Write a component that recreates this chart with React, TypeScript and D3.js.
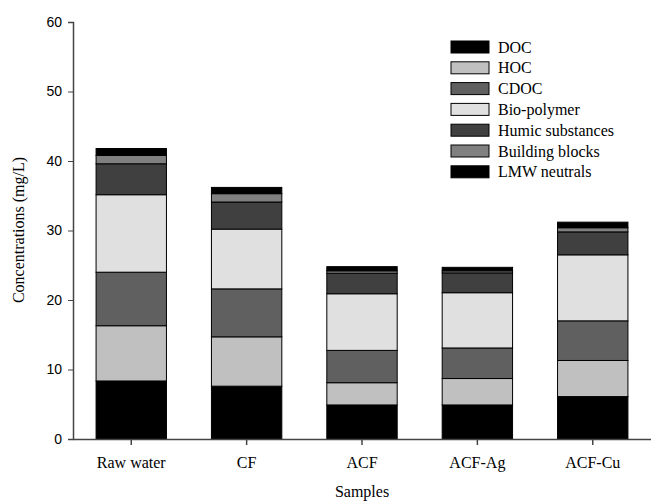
import React, { useEffect, useRef } from 'react';
import * as d3 from 'd3';

const samples = ['Raw water', 'CF', 'ACF', 'ACF-Ag', 'ACF-Cu'];
const fractions = ['DOC', 'HOC', 'CDOC', 'Bio-polymer', 'Humic substances', 'Building blocks', 'LMW neutrals'];
const fills = ['#000000', '#c0c0c0', '#606060', '#e0e0e0', '#404040', '#808080', '#000000'];

// stacked segment values per sample (mg/L), bottom to top
const doc = [8.35, 7.6, 4.9, 4.9, 6.1];
const hoc = [7.95, 7.1, 3.2, 3.8, 5.2];
const cdoc = [7.7, 6.9, 4.65, 4.4, 5.7];
const bioPolymer = [11.15, 8.6, 8.15, 7.95, 9.5];
const humic = [4.45, 3.9, 2.95, 2.85, 3.3];
const buildingBlocks = [1.2, 1.2, 0.35, 0.3, 0.6];
const lmwNeutrals = [1.0, 0.9, 0.6, 0.5, 0.8];

const yTicks = [0, 10, 20, 30, 40, 50, 60];

const SERIF = "'Liberation Serif', 'Times New Roman', serif";
const SANS = "'Liberation Sans', Arial, sans-serif";

const App = () => {
  const svgRef = useRef<SVGSVGElement>(null);

  useEffect(() => {
    const width = 651;
    const height = 503;
    const left = 73, right = 651, top = 22, bottom = 439;

    const series = [doc, hoc, cdoc, bioPolymer, humic, buildingBlocks, lmwNeutrals];
    const rows = samples.map((s, i) => {
      const r: any = { sample: s };
      fractions.forEach((f, j) => { r[f] = series[j][i]; });
      return r;
    });

    const stacked = d3.stack().keys(fractions)(rows);

    const x = d3.scaleBand().domain(samples).range([left, right]).paddingInner(0.39).paddingOuter(0.2);
    const y = d3.scaleLinear().domain([0, 60]).range([bottom, top]);

    const svg = d3.select(svgRef.current)
      .attr('width', width)
      .attr('height', height);
    svg.selectAll('*').remove();

    // bars
    const layers = svg.append('g')
      .selectAll('g')
      .data(stacked)
      .join('g')
      .attr('fill', (d, i) => fills[i]);

    layers.selectAll('rect')
      .data(d => d)
      .join('rect')
      .attr('x', (d: any) => x(d.data.sample)!)
      .attr('width', x.bandwidth())
      .attr('y', d => y(d[1]))
      .attr('height', d => y(d[0]) - y(d[1]))
      .attr('stroke', '#000')
      .attr('stroke-width', 1);

    // y axis
    const yAxis = svg.append('g')
      .attr('transform', `translate(${left},0)`)
      .call(d3.axisLeft(y).tickValues(yTicks).tickSize(5).tickPadding(6));
    yAxis.select('.domain').attr('stroke', '#444').attr('stroke-width', 1.5);
    yAxis.selectAll('.tick line').attr('stroke', '#444');
    yAxis.selectAll('text')
      .attr('font-family', SANS)
      .attr('font-size', 14)
      .attr('fill', '#000');

    // x axis
    const xAxis = svg.append('g')
      .attr('transform', `translate(0,${bottom})`)
      .call(d3.axisBottom(x).tickSize(6).tickPadding(12).tickSizeOuter(0));
    xAxis.select('.domain').attr('stroke', '#444').attr('stroke-width', 1.5);
    xAxis.selectAll('.tick line').attr('stroke', '#444').attr('stroke-width', 1.5);
    xAxis.selectAll('text')
      .attr('font-family', SERIF)
      .attr('font-size', 16)
      .attr('fill', '#000');

    // axis titles
    svg.append('text')
      .attr('x', 362)
      .attr('y', 497)
      .attr('text-anchor', 'middle')
      .attr('font-family', SERIF)
      .attr('font-size', 16)
      .text('Samples');

    svg.append('text')
      .attr('transform', 'translate(24,230) rotate(-90)')
      .attr('text-anchor', 'middle')
      .attr('font-family', SERIF)
      .attr('font-size', 16)
      .text('Concentrations (mg/L)');

    // legend
    const legend = svg.append('g')
      .selectAll('g')
      .data(fractions)
      .join('g')
      .attr('transform', (d, i) => `translate(451,${41 + i * 20.8})`);
    legend.append('rect')
      .attr('width', 38)
      .attr('height', 12)
      .attr('fill', (d, i) => fills[i])
      .attr('stroke', '#000')
      .attr('stroke-width', 1);
    legend.append('text')
      .attr('x', 47)
      .attr('y', 6)
      .attr('dy', '0.35em')
      .attr('font-family', SERIF)
      .attr('font-size', 16)
      .text(d => d);
  }, []);

  return <svg ref={svgRef} style={{ position: 'absolute', left: 0, top: 0 }} />;
};

export default App;
